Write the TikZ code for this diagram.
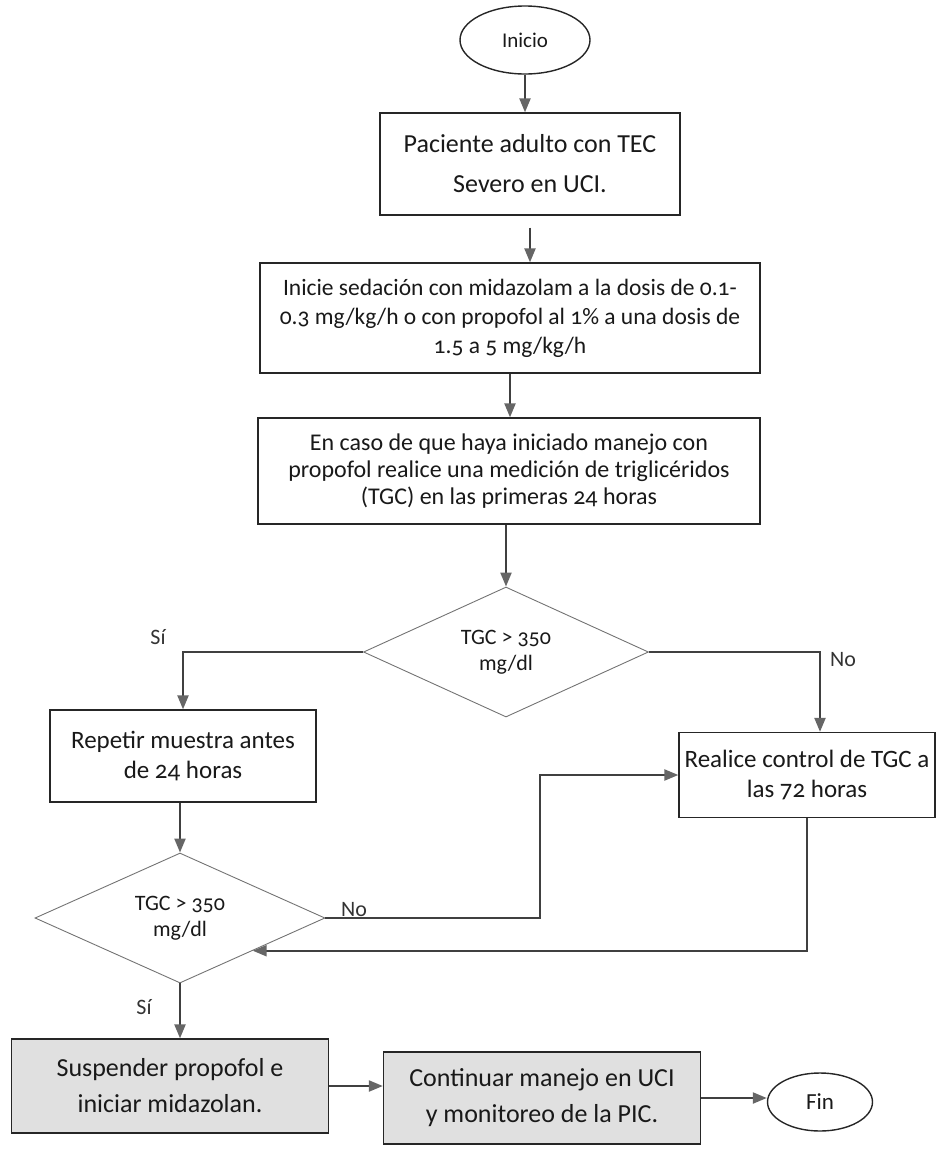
\documentclass[tikz,border=0pt]{standalone}
\usepackage{fontspec}
\setmainfont{Carlito}[Numbers=OldStyle]
\usetikzlibrary{shapes.geometric,arrows.meta}
\begin{document}
\begin{tikzpicture}[x=1pt,y=-1pt,
  box/.style={draw=black!85, line width=1.3pt, fill=white, align=center, inner sep=0pt, text=black!90},
  grbox/.style={box, fill=black!12},
  dec/.style={diamond, draw=black!55, line width=0.9pt, align=center, inner sep=0pt, aspect=2.2, text=black!90,
    font=\fontsize{22}{26}\selectfont},
  term/.style={ellipse, draw=black!85, line width=1.4pt, inner sep=0pt, text=black!90},
  arr/.style={draw=black!75, line width=2.2pt, -{Triangle[length=14pt,width=11pt,fill=black!60,color=black!60]}},
  lbl/.style={inner sep=0pt, text=black!80, font=\fontsize{22}{26}\selectfont}]
\useasboundingbox (0,0) rectangle (940,1149);

\node[term, minimum width=130pt, minimum height=68pt, font=\fontsize{21}{25}\selectfont] (start) at (525,40) {Inicio};
\node[box, minimum width=300pt, minimum height=102pt, font=\fontsize{26}{40}\selectfont] (b1) at (530,164) {Paciente adulto con TEC\\Severo en UCI.};
\node[box, minimum width=500pt, minimum height=110pt, font=\fontsize{23.5}{29}\selectfont] (b2) at (510,318) {Inicie sedación con midazolam a la dosis de 0.1-\\0.3 mg/kg/h o con propofol al 1\% a una dosis de\\1.5 a 5 mg/kg/h};
\node[box, minimum width=502pt, minimum height=106pt, font=\fontsize{24}{27}\selectfont] (b3) at (509,471) {En caso de que haya iniciado manejo con\\propofol realice una medición de triglicéridos\\(TGC) en las primeras 24 horas};
\node[dec, minimum width=285pt, minimum height=130pt] (d1) at (506,652) {TGC > 350\\mg/dl};
\node[box, minimum width=266pt, minimum height=92pt, font=\fontsize{25}{30}\selectfont] (rep) at (183,756) {Repetir muestra antes\\de 24 horas};
\node[box, minimum width=256pt, minimum height=85pt, font=\fontsize{25}{30}\selectfont] (real) at (807,775) {Realice control de TGC a\\las 72 horas};
\node[dec, minimum width=290pt, minimum height=130pt] (d2) at (180,918) {TGC > 350\\mg/dl};
\node[grbox, minimum width=317pt, minimum height=94pt, font=\fontsize{26}{36}\selectfont] (sus) at (170,1086) {Suspender propofol e\\iniciar midazolan.};
\node[grbox, minimum width=317pt, minimum height=92pt, font=\fontsize{26}{36}\selectfont] (cont) at (542,1098) {Continuar manejo en UCI\\y monitoreo de la PIC.};
\node[term, minimum width=105pt, minimum height=58pt, font=\fontsize{23}{26}\selectfont] (fin) at (820,1102) {Fin};

\node[lbl] (si1) at (158,637) {Sí};
\node[lbl] (no1) at (843,660) {No};
\node[lbl] (no2) at (354,910) {No};
\node[lbl] (si2) at (144,1007) {Sí};

\coordinate (k) at (540,850);

\draw[arr] (start.south) -- (start.south |- b1.north);
\draw[arr, shorten <=12pt] (b1.south) -- (b1.south |- b2.north);
\draw[arr] (b2.south) -- (b2.south |- b3.north);
\draw[arr] (b3.south -| d1.north) -- (d1.north);
\draw[arr] (d1.west) -| (rep.north);
\draw[arr] (d1.east) -| ([xshift=13pt]real.north);
\draw[arr] (rep.south -| d2.north) -- (d2.north);
\draw[arr] (d2.east) -| (k) |- (real.west);
\draw[arr] (real.south) |- (d2.south east);
\draw[arr] (d2.south) -- (d2.south |- sus.north);
\draw[arr] (sus.east) -- (sus.east -| cont.west);
\draw[arr] (cont.east) -- (cont.east -| fin.west);
\end{tikzpicture}
\end{document}
